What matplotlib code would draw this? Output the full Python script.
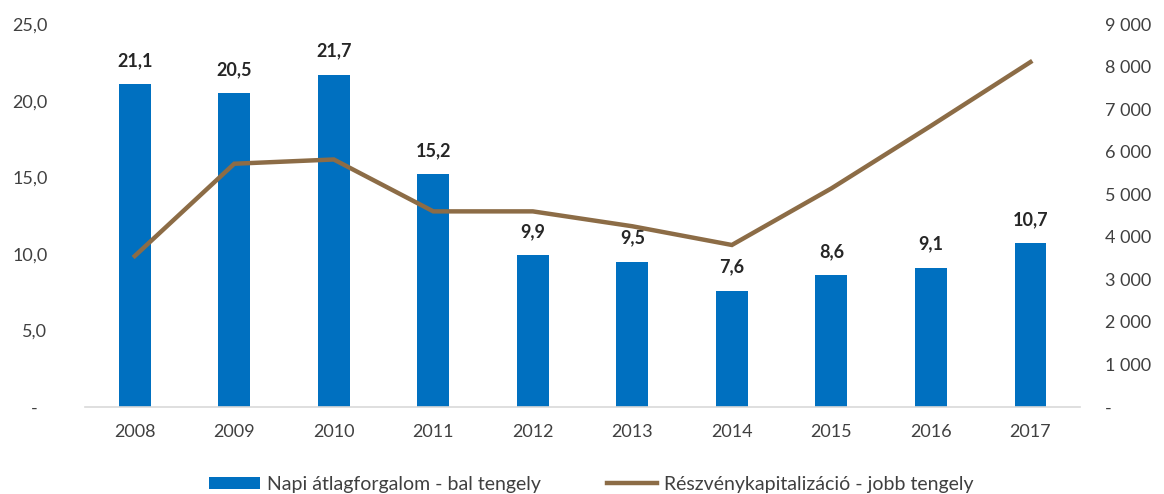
import matplotlib
matplotlib.use("Agg")
import matplotlib.pyplot as plt
import numpy as np

# adatok
evek = ["2008", "2009", "2010", "2011", "2012", "2013", "2014", "2015", "2016", "2017"]
forgalom = [21.1, 20.5, 21.7, 15.2, 9.9, 9.5, 7.6, 8.6, 9.1, 10.7]
kapitalizacio = [3550, 5720, 5820, 4600, 4600, 4250, 3810, 5140, 6610, 8110]
bal_tickek = [0, 5, 10, 15, 20, 25]
jobb_tickek = [0, 1000, 2000, 3000, 4000, 5000, 6000, 7000, 8000, 9000]

plt.rcParams["font.family"] = ["Lato", "DejaVu Sans"]

fig = plt.figure(figsize=(11.64, 4.94), dpi=100)
ax = fig.add_axes([0.073, 0.176, 0.855, 0.775])
ax2 = ax.twinx()

x = np.arange(len(evek))
kek = "#0070C0"
barna = "#8C6C46"
szoveg = "#404040"

oszlopok = ax.bar(x, forgalom, width=0.32, color=kek, zorder=2,
                  label="Napi átlagforgalom - bal tengely")
for xi, v in zip(x, forgalom):
    ax.annotate(f"{v:.1f}".replace(".", ","), (xi, v), xytext=(0, 17),
                textcoords="offset points", ha="center", va="center",
                fontsize=13, fontweight="bold", color="#262626")

vonal, = ax2.plot(x, kapitalizacio, color=barna, linewidth=3.2,
                  solid_joinstyle="miter", zorder=3,
                  label="Részvénykapitalizáció - jobb tengely")

ax.set_xlim(-0.5, len(evek) - 0.5)
ax.set_ylim(0, 25)
ax2.set_ylim(0, 9000)

ax.set_yticks(bal_tickek)
ax.set_yticklabels(["-  "] + [f"{t:.1f}".replace(".", ",") for t in bal_tickek[1:]])
ax2.set_yticks(jobb_tickek)
ax2.set_yticklabels(["-"] + [f"{t:,}".replace(",", " ") for t in jobb_tickek[1:]])
ax.set_xticks(x)
ax.set_xticklabels(evek)

for a in (ax, ax2):
    for s in a.spines.values():
        s.set_visible(False)
ax.spines["bottom"].set_visible(True)
ax.spines["bottom"].set_color("#D9D9D9")
ax.spines["bottom"].set_linewidth(1.2)

ax.tick_params(axis="y", length=0, pad=27, labelsize=13, labelcolor=szoveg)
ax.tick_params(axis="x", length=0, pad=12, labelsize=13, labelcolor=szoveg)
ax2.tick_params(axis="y", length=0, pad=18, labelsize=13, labelcolor=szoveg)

ax.set_zorder(ax2.get_zorder() - 1)
ax.patch.set_visible(False)

fig.legend(handles=[oszlopok, vonal], loc="center", bbox_to_anchor=(0.508, 0.02),
           ncol=2, frameon=False, fontsize=14, handlelength=2.6, handleheight=0.55,
           columnspacing=3.4, handletextpad=0.35, labelcolor=szoveg)

fig.savefig("out.png", dpi=100)
